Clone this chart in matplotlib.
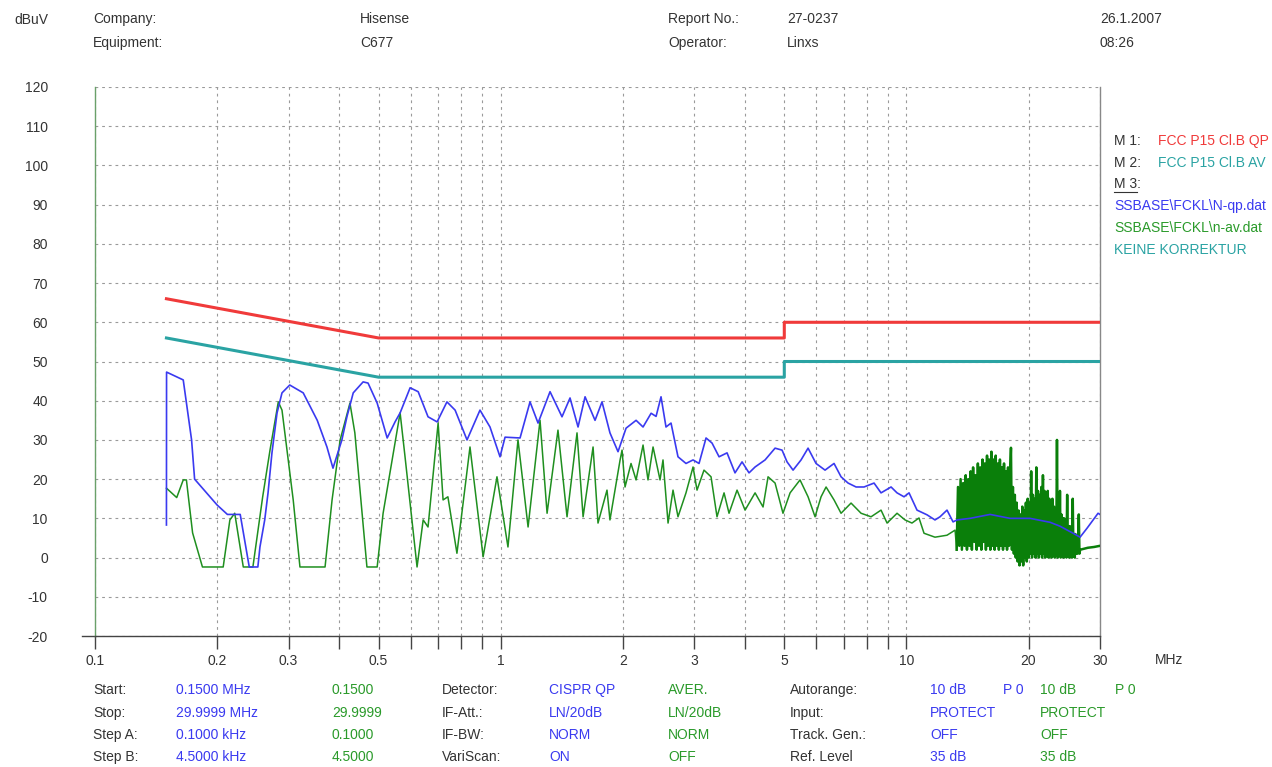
import matplotlib
matplotlib.use("Agg")
import matplotlib.pyplot as plt
from matplotlib.ticker import FixedLocator, NullFormatter, FixedFormatter

plt.rcParams['font.family'] = ['Liberation Sans', 'DejaVu Sans']
plt.rcParams['axes.unicode_minus'] = False

# limit lines (FCC Part 15 class B)
lim_freq = [0.15, 0.5, 5.0, 5.0, 30.0]
qp_limit = [66, 56, 56, 60, 60]
av_limit = [56, 46, 46, 50, 50]

# quasi-peak trace (blue)
qp_freq = [0.150, 0.1501, 0.165, 0.173, 0.176, 0.200, 0.212, 0.221, 0.228, 0.240, 0.252,
           0.255, 0.262, 0.267, 0.273, 0.281, 0.289, 0.302, 0.326, 0.353, 0.373, 0.386,
           0.406, 0.418, 0.433, 0.458, 0.471, 0.496, 0.525, 0.549, 0.565, 0.598, 0.626,
           0.662, 0.697, 0.737, 0.772, 0.826, 0.889, 0.941, 0.996, 1.025, 1.116, 1.181,
           1.236, 1.323, 1.416, 1.482, 1.551, 1.614, 1.708, 1.777, 1.859, 1.946, 2.037,
           2.156, 2.243, 2.348, 2.415, 2.484, 2.555, 2.629, 2.735, 2.862, 2.979, 3.082,
           3.207, 3.318, 3.453, 3.613, 3.780, 3.934, 4.093, 4.236, 4.483, 4.745, 4.937,
           5.079, 5.255, 5.499, 5.722, 5.987, 6.301, 6.631, 6.900, 7.181, 7.514, 7.862,
           8.321, 8.658, 9.165, 9.481, 9.865, 10.15, 10.62, 11.24, 11.76, 12.10, 12.59,
           13.03, 13.33, 14.35, 16.08, 18.01, 20.17, 22.59, 23.91, 25.75, 26.79, 27.88,
           29.67, 30.0]
qp_level = [8.3, 47.3, 45.3, 30.0, 20.0, 13.4, 11.0, 11.0, 11.0, -2.4, -2.4,
            2.7, 9.6, 16.5, 26.7, 36.9, 42.0, 44.0, 42.0, 35.0, 28.2, 22.8,
            30.0, 36.0, 42.0, 44.8, 44.5, 39.4, 30.5, 34.6, 36.9, 43.3, 42.3,
            35.9, 34.6, 39.7, 37.6, 30.0, 37.6, 33.3, 25.7, 30.7, 30.5, 39.7,
            34.3, 42.3, 35.9, 40.7, 33.3, 41.0, 35.0, 39.7, 31.8, 27.0, 33.0,
            35.0, 33.3, 36.8, 36.0, 41.0, 33.3, 34.3, 25.7, 24.0, 24.9, 24.0,
            30.5, 29.2, 25.7, 26.7, 21.6, 24.4, 21.6, 23.1, 24.9, 27.9, 27.4,
            24.4, 22.3, 24.9, 27.9, 24.0, 22.3, 24.0, 20.6, 19.0, 18.0, 18.0,
            19.0, 16.5, 18.0, 16.5, 15.5, 16.5, 12.1, 10.9, 9.6, 10.4, 12.1,
            9.1, 9.6, 10.0, 11.0, 10.0, 10.0, 9.0, 8.0, 6.2, 5.2, 7.5,
            11.3, 11.0]

# average trace (green), 0.15 - 13.3 MHz
av_freq = [0.150, 0.159, 0.165, 0.168, 0.174, 0.184, 0.207, 0.215, 0.221, 0.232, 0.245,
           0.259, 0.270, 0.283, 0.289, 0.308, 0.320, 0.369, 0.384, 0.402, 0.425, 0.437,
           0.468, 0.496, 0.513, 0.565, 0.581, 0.622, 0.644, 0.662, 0.701, 0.721, 0.741,
           0.780, 0.840, 0.905, 0.979, 1.042, 1.103, 1.168, 1.250, 1.301, 1.384, 1.457,
           1.542, 1.596, 1.689, 1.737, 1.828, 1.859, 1.969, 1.991, 2.025, 2.095, 2.156,
           2.243, 2.307, 2.374, 2.470, 2.512, 2.585, 2.659, 2.735, 2.862, 2.979, 3.047,
           3.170, 3.299, 3.413, 3.552, 3.654, 3.824, 4.002, 4.236, 4.432, 4.560, 4.745,
           4.963, 5.167, 5.467, 5.722, 5.954, 6.160, 6.338, 6.631, 6.900, 7.303, 7.730,
           8.181, 8.658, 8.960, 9.481, 9.920, 10.32, 10.74, 11.05, 11.76, 12.59, 13.18, 13.3]
av_level = [17.7, 15.3, 19.8, 19.8, 6.3, -2.4, -2.4, 9.6, 11.3, -2.4, -2.4,
            15.5, 27.4, 39.7, 37.6, 14.7, -2.4, -2.4, 14.7, 30.0, 39.4, 31.8,
            -2.4, -2.4, 11.3, 36.9, 25.7, -2.4, 9.6, 7.8, 34.3, 14.7, 15.5,
            1.1, 28.2, 0.2, 20.6, 2.7, 30.0, 7.8, 35.0, 11.3, 32.5, 10.4,
            31.8, 10.4, 28.2, 8.8, 17.2, 9.6, 24.9, 27.4, 18.0, 24.0, 19.8,
            28.7, 19.8, 28.2, 19.8, 24.9, 8.8, 17.2, 10.4, 16.5, 23.1, 17.2,
            22.3, 20.6, 10.4, 16.5, 11.3, 17.2, 12.1, 16.5, 12.9, 20.6, 19.0,
            11.3, 16.5, 19.8, 15.5, 10.4, 15.5, 18.0, 14.7, 11.3, 13.9, 11.3,
            10.4, 12.1, 8.8, 11.3, 9.6, 8.8, 10.1, 6.2, 5.2, 5.7, 7.0, 2.0]

# average trace (green), dense burst 13.3 - 30 MHz
burst_freq = [13.3, 13.4, 13.5, 13.6, 13.7, 13.8, 13.9, 14.0, 14.1, 14.2, 14.3, 14.4,
              14.5, 14.6, 14.7, 14.8, 14.9, 15.0, 15.1, 15.2, 15.3, 15.4, 15.5, 15.6,
              15.7, 15.8, 15.9, 16.0, 16.1, 16.2, 16.3, 16.4, 16.5, 16.6, 16.7, 16.8,
              16.9, 17.0, 17.1, 17.2, 17.3, 17.4, 17.5, 17.6, 17.7, 17.8, 17.9, 18.0,
              18.1, 18.2, 18.3, 18.4, 18.5, 18.6, 18.7, 18.8, 18.9, 19.0, 19.1, 19.2,
              19.3, 19.4, 19.5, 19.6, 19.7, 19.8, 19.9, 20.0, 20.1, 20.2, 20.3, 20.4,
              20.5, 20.6, 20.7, 20.8, 20.9, 21.0, 21.1, 21.2, 21.3, 21.4, 21.5, 21.6,
              21.7, 21.8, 21.9, 22.0, 22.1, 22.2, 22.3, 22.4, 22.5, 22.6, 22.7, 22.8,
              22.9, 23.0, 23.1, 23.2, 23.3, 23.4, 23.5, 23.6, 23.7, 23.8, 23.9, 24.0,
              24.1, 24.2, 24.3, 24.4, 24.5, 24.6, 24.7, 24.8, 24.9, 25.0, 25.1, 25.2,
              25.3, 25.4, 25.5, 25.6, 25.7, 25.8, 25.9, 26.0, 26.1, 26.2, 26.3, 26.4,
              26.5, 26.6, 26.7, 26.8, 28.0, 29.0, 30.0]
burst_level = [2, 18, 3, 20, 2, 19, 3, 21, 2, 20, 3, 22,
               2, 23, 4, 21, 2, 24, 3, 23, 2, 25, 4, 24,
               2, 26, 3, 25, 2, 27, 3, 25, 2, 26, 3, 24,
               2, 25, 3, 23, 2, 24, 3, 22, 2, 23, 3, 21,
               28, 2, 18, 1, 16, 0, 14, -1, 12, -2, 11, -1,
               13, -2, 12, 0, 14, -1, 15, 0, 14, 1, 22, 0,
               16, 1, 15, 0, 23, 1, 17, 0, 16, 1, 18, 0,
               21, 1, 17, 0, 16, 1, 17, 0, 15, 1, 14, 0,
               15, 1, 13, 0, 12, 1, 30, 0, 12, 1, 17, 0,
               11, 1, 10, 0, 10, 1, 9, 0, 16, 1, 8, 0,
               8, 1, 7, 0, 15, 1, 6, 0, 6, 1, 5, 1,
               5, 11, 1, 2, 2.5, 2.7, 3.0]

x_major = [0.1, 0.2, 0.3, 0.5, 1, 2, 3, 5, 10, 20, 30]
x_major_labels = ['0.1', '0.2', '0.3', '0.5', '1', '2', '3', '5', '10', '20', '30']
x_minor = [0.4, 0.6, 0.7, 0.8, 0.9, 4, 6, 7, 8, 9]
y_ticks = list(range(-20, 121, 10))

W, H = 1272, 767
FS = 10
fig = plt.figure(figsize=(W / 100, H / 100), dpi=100)
ax = fig.add_axes([95 / W, 1 - 636 / H, (1100 - 95) / W, (636 - 87) / H])

ax.set_xscale('log')
ax.set_xlim(0.1, 30)
ax.set_ylim(-20, 120)

ax.plot(lim_freq, qp_limit, color='#f03a3a', lw=2.2, zorder=4)
ax.plot(lim_freq, av_limit, color='#2aa3a3', lw=2.2, zorder=4)
ax.plot(av_freq, av_level, color='#1f8f1f', lw=1.1, zorder=3)
ax.plot(burst_freq, burst_level, color='#0a7f0a', lw=1.8, zorder=3)
ax.plot(qp_freq, qp_level, color='#3a3af0', lw=1.2, zorder=3)

ax.xaxis.set_major_locator(FixedLocator(x_major))
ax.xaxis.set_major_formatter(FixedFormatter(x_major_labels))
ax.xaxis.set_minor_locator(FixedLocator(x_minor))
ax.xaxis.set_minor_formatter(NullFormatter())
ax.set_yticks(y_ticks)

ax.tick_params(axis='x', which='both', direction='out', length=9, width=1.0,
               color='#444444', labelsize=FS, labelcolor='#333333', pad=4)
ax.tick_params(axis='y', which='both', length=0, labelsize=FS, labelcolor='#333333', pad=34)

gridkw = dict(color='#9a9a9a', lw=0.8, linestyle=(0, (2.5, 3.5)))
ax.grid(True, which='major', axis='both', **gridkw)
ax.grid(True, which='minor', axis='x', **gridkw)
ax.set_axisbelow(True)

ax.spines['top'].set_visible(False)
ax.spines['left'].set_color('#6aa06a')
ax.spines['right'].set_color('#888888')
ax.spines['bottom'].set_color('#444444')
for s in ax.spines.values():
    s.set_linewidth(1.0)
# bottom axis line runs a little past the left edge
ax.plot([-13 / 1005, 0], [0, 0], transform=ax.transAxes, color='#444444', lw=1.0, clip_on=False)

def txt(x, y, s, color='#333333', **kw):
    fig.text(x / W, 1 - y / H, s, color=color, fontsize=FS, va='center', ha='left', **kw)

# header
txt(14, 20, 'dBuV')
txt(93, 19, 'Company:')
txt(93, 43, 'Equipment:')
txt(360, 19, 'Hisense')
txt(360, 43, 'C677')
txt(668, 19, 'Report No.:')
txt(668, 43, 'Operator:')
txt(787, 19, '27-0237')
txt(787, 43, 'Linxs')
txt(1100, 19, '26.1.2007')
txt(1100, 43, '08:26')
txt(1155, 660, 'MHz')

# marker legend
blue, green, red, teal = '#3a3af0', '#2a9a2a', '#f03a3a', '#2aa3a3'
txt(1114, 141, 'M 1:')
txt(1158, 141, 'FCC P15 Cl.B QP', red)
txt(1114, 163, 'M 2:')
txt(1158, 163, 'FCC P15 Cl.B AV', teal)
txt(1114, 184, 'M 3:')
fig.add_artist(plt.Line2D([1114 / W, 1137 / W], [1 - 192 / H, 1 - 192 / H], color='#333333', lw=0.8))
txt(1114, 206, 'SSBASE\\FCKL\\N-qp.dat', blue)
txt(1114, 228, 'SSBASE\\FCKL\\n-av.dat', green)
txt(1114, 250, 'KEINE KORREKTUR', teal)

# footer settings
rows = [690, 713, 735, 757]
col_label = ['Start:', 'Stop:', 'Step A:', 'Step B:']
col_blue1 = ['0.1500 MHz', '29.9999 MHz', '0.1000 kHz', '4.5000 kHz']
col_green1 = ['0.1500', '29.9999', '0.1000', '4.5000']
col_label2 = ['Detector:', 'IF-Att.:', 'IF-BW:', 'VariScan:']
col_blue2 = ['CISPR QP', 'LN/20dB', 'NORM', 'ON']
col_green2 = ['AVER.', 'LN/20dB', 'NORM', 'OFF']
col_label3 = ['Autorange:', 'Input:', 'Track. Gen.:', 'Ref. Level']
col_blue3 = ['10 dB', 'PROTECT', 'OFF', '35 dB']
col_green3 = ['10 dB', 'PROTECT', 'OFF', '35 dB']
for i, y in enumerate(rows):
    txt(93, y, col_label[i])
    txt(176, y, col_blue1[i], blue)
    txt(332, y, col_green1[i], green)
    txt(442, y, col_label2[i])
    txt(549, y, col_blue2[i], blue)
    txt(668, y, col_green2[i], green)
    txt(790, y, col_label3[i])
    txt(930, y, col_blue3[i], blue)
    txt(1040, y, col_green3[i], green)
txt(1003, rows[0], 'P 0', blue)
txt(1115, rows[0], 'P 0', green)

fig.savefig('out.png', dpi=100)
